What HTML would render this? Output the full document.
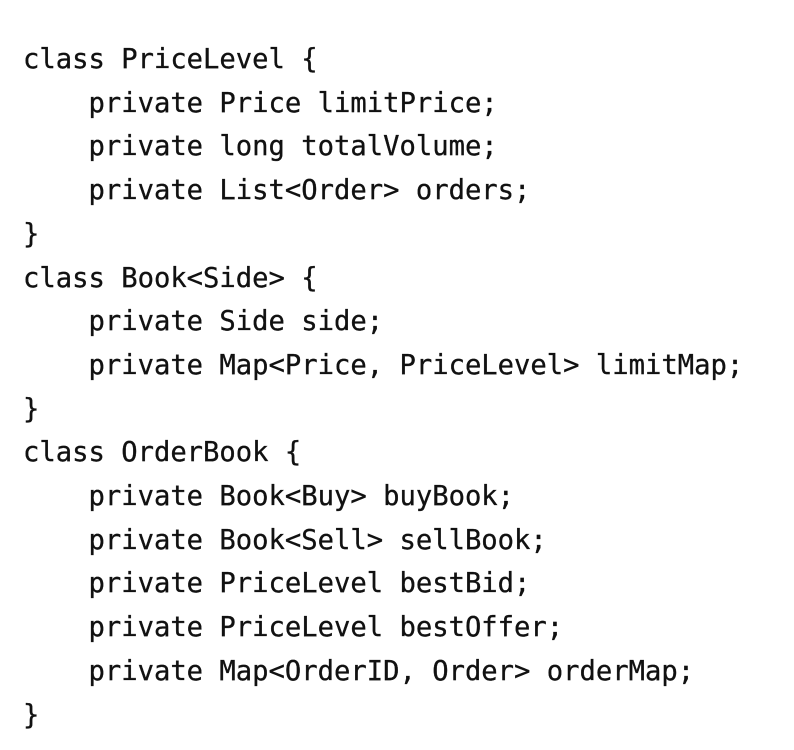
<!DOCTYPE html>
<html><head><meta charset="utf-8"><style>
html,body{margin:0;padding:0;background:#fff;width:794px;height:750px;overflow:hidden}
pre{position:absolute;left:23px;top:38px;margin:0;font-family:"DejaVu Sans Mono","Liberation Mono",monospace;font-size:27.2px;line-height:43.7px;color:#111;font-weight:500;-webkit-text-stroke:0.3px #111}
</style></head><body>
<pre>class PriceLevel {
    private Price limitPrice;
    private long totalVolume;
    private List&lt;Order&gt; orders;
}
class Book&lt;Side&gt; {
    private Side side;
    private Map&lt;Price, PriceLevel&gt; limitMap;
}
class OrderBook {
    private Book&lt;Buy&gt; buyBook;
    private Book&lt;Sell&gt; sellBook;
    private PriceLevel bestBid;
    private PriceLevel bestOffer;
    private Map&lt;OrderID, Order&gt; orderMap;
}</pre>
</body></html>
